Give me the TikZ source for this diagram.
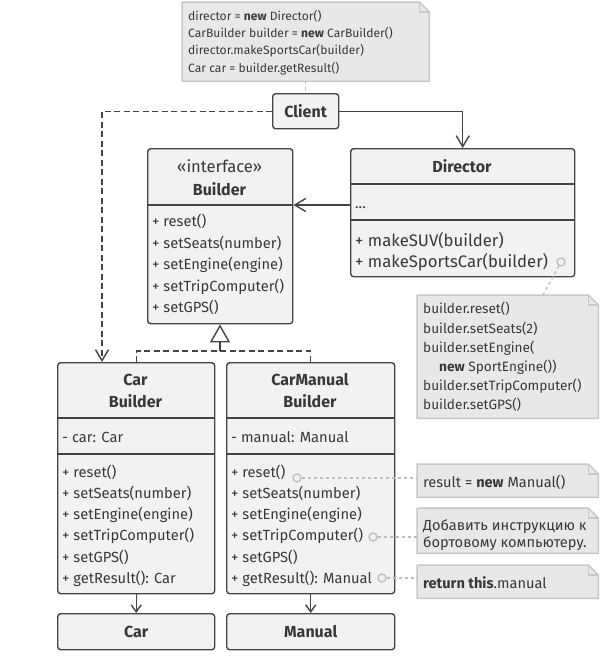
\documentclass[tikz,border=0pt]{standalone}
\usepackage{fontspec}
\setmainfont{Fira Sans}
\usetikzlibrary{arrows.meta}
\definecolor{ln}{HTML}{444444}
\definecolor{boxf}{HTML}{F2F2F2}
\definecolor{notef}{HTML}{E8E8E8}
\definecolor{noted}{HTML}{C8C8C8}
\definecolor{txt}{HTML}{383838}
\definecolor{lnkc}{HTML}{BDBDBD}
\newcommand\drawnote[1]{%
  \draw[draw=noted, fill=notef, line width=1.5pt, line join=round]
    (#1.north west) -- ([xshift=-10pt]#1.north east) -- ([yshift=-10pt]#1.north east)
    -- (#1.south east) -- (#1.south west) -- cycle;
  \draw[draw=noted, line width=1.2pt] ([xshift=-10pt]#1.north east) |- ([yshift=-10pt]#1.north east);}
\begin{document}
\begin{tikzpicture}[x=1pt,y=-1pt,
  cls/.style={draw=ln, fill=boxf, line width=1.4pt, rounded corners=3pt, inner sep=0, anchor=north west, text=txt, font=\fontsize{16}{18}\selectfont\bfseries},
  notebox/.style={inner sep=0, anchor=north west},
  mem/.style={anchor=base west, inner sep=0, text=txt, font=\fontsize{14.7}{16}\selectfont},
  dmem/.style={anchor=base west, inner sep=0, text=txt, font=\fontsize{16.7}{19}\selectfont},
  ttl/.style={anchor=base, inner sep=0, text=txt, font=\fontsize{16}{18}\selectfont\bfseries},
  ntxt/.style={anchor=base west, inner sep=0, text=txt, font=\fontsize{12.1}{15}\selectfont},
  rtxt/.style={anchor=base west, inner sep=0, text=txt, font=\fontsize{13.6}{15}\selectfont},
  btxt/.style={anchor=base west, inner sep=0, text=txt, font=\fontsize{14.6}{16}\selectfont},
  div/.style={draw=ln, line width=1.4pt},
  conn/.style={draw=ln, line width=1.4pt},
  barb/.style={-{Straight Barb[length=11pt,width=13pt]}},
  lnk/.style={draw=lnkc, line width=1.3pt, dash pattern=on 3pt off 3pt},
  circ/.style={circle, draw=lnkc, line width=1.3pt, minimum size=8pt, inner sep=0},
]
\useasboundingbox (0,0) rectangle (616,662);

% ---------- notes ----------
\node[notebox, minimum width=247pt, minimum height=79pt] (topnote) at (182,2) {};
\drawnote{topnote}
\node[ntxt] (t1) at (188,20.3) {director = \textbf{new} Director()};
\node[ntxt] (t2) at (188,37.6) {CarBuilder builder = \textbf{new} CarBuilder()};
\node[ntxt] (t3) at (188,54.9) {director.makeSportsCar(builder)};
\node[ntxt] (t4) at (188,72.2) {Car car = builder.getResult()};

\node[notebox, minimum width=181pt, minimum height=123pt] (rnote) at (417,295) {};
\drawnote{rnote}
\node[rtxt] (r1) at (423,313.8) {builder.reset()};
\node[rtxt] (r2) at (423,333) {builder.setSeats(2)};
\node[rtxt] (r3) at (423,352.2) {builder.setEngine(};
\node[rtxt] (r4) at (439,371.4) {\textbf{new} SportEngine())};
\node[rtxt] (r5) at (423,390.6) {builder.setTripComputer()};
\node[rtxt] (r6) at (423,409.8) {builder.setGPS()};

\node[notebox, minimum width=181pt, minimum height=33pt] (n1) at (417,464) {};
\drawnote{n1}
\node[btxt] (n1t) at (423,487) {result = \textbf{new} Manual()};
\node[notebox, minimum width=181pt, minimum height=45pt] (n2) at (417,508) {};
\drawnote{n2}
\node[btxt] (n2a) at (423,530) {Добавить инструкцию к};
\node[btxt] (n2b) at (423,547) {бортовому компьютеру.};
\node[notebox, minimum width=181pt, minimum height=33pt] (n3) at (417,565) {};
\drawnote{n3}
\node[btxt] (n3t) at (423,588) {\textbf{return this}.manual};

% ---------- classes ----------
\node[cls, minimum width=66pt, minimum height=35pt] (client) at (272,93) {Client};

\node[cls, minimum width=145pt, minimum height=175pt] (builder) at (147,148) {};
\draw[div] (builder.west |- 0,205) -- (builder.east |- 0,205);
\node[anchor=base, inner sep=0, text=txt, font=\fontsize{16.6}{18}\selectfont] (bi) at (219.5,172) {«interface»};
\node[ttl] (bt) at (219.5,195.5) {Builder};
\node[mem] (b1) at (152,226.5) {+ reset()};
\node[mem] (b2) at (152,248) {+ setSeats(number)};
\node[mem] (b3) at (152,269.5) {+ setEngine(engine)};
\node[mem] (b4) at (152,291) {+ setTripComputer()};
\node[mem] (b5) at (152,312.5) {+ setGPS()};

\node[cls, minimum width=224pt, minimum height=128pt] (director) at (350,148) {};
\draw[div] (director.west |- 0,184) -- (director.east |- 0,184);
\draw[div] (director.west |- 0,220) -- (director.east |- 0,220);
\node[ttl] (dt) at (462,172.5) {Director};
\node[mem] (d0) at (355,208) {...};
\node[dmem] (d1) at (355,246) {+ makeSUV(builder)};
\node[dmem] (d2) at (355,267.5) {+ makeSportsCar(builder)};
\node[circ] (dc) at (561,262) {};

\node[cls, minimum width=157pt, minimum height=231pt] (carb) at (57,362) {};
\draw[div] (carb.west |- 0,418) -- (carb.east |- 0,418);
\draw[div] (carb.west |- 0,454) -- (carb.east |- 0,454);
\node[ttl] (cbt1) at (135.5,385.5) {Car};
\node[ttl] (cbt2) at (135.5,407.5) {Builder};
\node[mem] (cf) at (62,442) {- car: Car};
\node[mem] (c1) at (62,477) {+ reset()};
\node[mem] (c2) at (62,498) {+ setSeats(number)};
\node[mem] (c3) at (62,519) {+ setEngine(engine)};
\node[mem] (c4) at (62,540) {+ setTripComputer()};
\node[mem] (c5) at (62,562) {+ setGPS()};
\node[mem] (c6) at (62,583) {+ getResult(): Car};

\node[cls, minimum width=168pt, minimum height=231pt] (cmb) at (226,362) {};
\draw[div] (cmb.west |- 0,418) -- (cmb.east |- 0,418);
\draw[div] (cmb.west |- 0,454) -- (cmb.east |- 0,454);
\node[ttl] (mbt1) at (310,385.5) {CarManual};
\node[ttl] (mbt2) at (310,407.5) {Builder};
\node[mem] (mf) at (231,442) {- manual: Manual};
\node[mem] (m1) at (231,477) {+ reset()};
\node[mem] (m2) at (231,498) {+ setSeats(number)};
\node[mem] (m3) at (231,519) {+ setEngine(engine)};
\node[mem] (m4) at (231,540) {+ setTripComputer()};
\node[mem] (m5) at (231,562) {+ setGPS()};
\node[mem] (m6) at (231,583) {+ getResult(): Manual};
\node[circ] (mc1) at (297,478) {};
\node[circ] (mc4) at (373,537) {};
\node[circ] (mc6) at (382,578) {};

\node[cls, minimum width=157pt, minimum height=36pt] (car) at (57,613) {Car};
\node[cls, minimum width=168pt, minimum height=36pt] (manual) at (226,613) {Manual};

% ---------- connectors ----------
\draw[conn, barb] (client.east) -| (director.north);
\draw[conn, barb, dash pattern=on 6pt off 3.5pt] (client.west) -| ([xshift=45pt]carb.north west);
\draw[conn, barb] (director.west |- 0,205) -- (builder.east |- 0,205);
\coordinate (g) at (220,351);
\draw[conn, dash pattern=on 6pt off 3.5pt] (carb.north) |- (g) -| (cmb.north);
\draw[conn, -{Triangle[open, length=18pt, width=20pt]}] (g) -- (builder.south -| g);
\draw[conn, -{Straight Barb[length=7pt,width=10pt]}] (carb.south) -- (car.north);
\draw[conn, -{Straight Barb[length=7pt,width=10pt]}] (cmb.south) -- (manual.north);

\draw[lnk] (topnote.south) -- (client.north);
\draw[lnk] (dc) -- (rnote.north -| 543,0);
\draw[lnk] (mc1) -- (mc1 -| n1.west);
\draw[lnk] (mc4) -- (mc4 -| n2.west);
\draw[lnk] (mc6) -- (mc6 -| n3.west);
\end{tikzpicture}
\end{document}
